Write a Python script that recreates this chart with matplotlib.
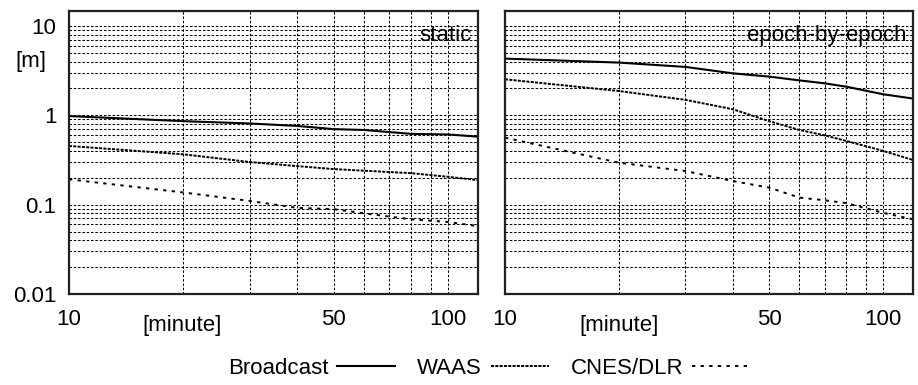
import matplotlib
matplotlib.use("Agg")
import matplotlib.pyplot as plt
from matplotlib.lines import Line2D
from matplotlib.ticker import FixedLocator, NullFormatter, LogLocator

plt.rcParams['font.family'] = ['Liberation Sans', 'DejaVu Sans']
plt.rcParams['lines.scale_dashes'] = False

# Data (minutes vs. error in metres)
x_static = [10, 20, 30, 40, 50, 60, 80, 100, 120]
static_broadcast = [0.98, 0.86, 0.81, 0.76, 0.70, 0.685, 0.62, 0.61, 0.577]
static_waas = [0.454, 0.366, 0.30, 0.27, 0.25, 0.24, 0.225, 0.205, 0.188]
static_cnes = [0.192, 0.137, 0.11, 0.092, 0.089, 0.080, 0.0685, 0.064, 0.0575]

x_epoch = [10, 20, 30, 40, 50, 60, 70, 80, 100, 120]
epoch_broadcast = [4.31, 3.89, 3.48, 2.95, 2.71, 2.46, 2.28, 2.09, 1.72, 1.54]
epoch_waas = [2.53, 1.87, 1.49, 1.17, 0.86, 0.686, 0.597, 0.516, 0.40, 0.316]
epoch_cnes = [0.562, 0.295, 0.238, 0.184, 0.155, 0.12, 0.112, 0.104, 0.081, 0.0686]

series_names = ['Broadcast', 'WAAS', 'CNES/DLR']
panel_titles = ['static', 'epoch-by-epoch']
x_ticks = [10, 50, 100]
y_ticks = [0.01, 0.1, 1, 10]
y_ticklabels = ['0.01', '0.1', '1', '10']

styles = [
    dict(color='black', lw=1.5, linestyle='-'),
    dict(color='black', lw=1.4, dashes=(2.2, 0.9)),
    dict(color='black', lw=1.4, dashes=(2.4, 3.8)),
]

FS = 16
fig = plt.figure(figsize=(9.18, 3.85), dpi=100)
ax1 = fig.add_axes([69/918, 1-294/385, 409/918, 283/385])
ax2 = fig.add_axes([505/918, 1-294/385, 408/918, 283/385])

panels = [
    (ax1, x_static, [static_broadcast, static_waas, static_cnes]),
    (ax2, x_epoch, [epoch_broadcast, epoch_waas, epoch_cnes]),
]

for i, (ax, xs, ys) in enumerate(panels):
    ax.set_xscale('log')
    ax.set_yscale('log')
    ax.set_xlim(10, 120)
    ax.set_ylim(0.01, 14.7)
    for y, st in zip(ys, styles):
        ax.plot(xs, y, **st)
    ax.xaxis.set_major_locator(FixedLocator(x_ticks))
    ax.xaxis.set_minor_locator(FixedLocator([20, 30, 40, 60, 70, 80, 90]))
    ax.set_xticklabels([str(t) for t in x_ticks])
    ax.xaxis.set_minor_formatter(NullFormatter())
    ax.yaxis.set_major_locator(FixedLocator(y_ticks))
    ax.yaxis.set_minor_locator(LogLocator(base=10, subs=range(2, 10), numticks=20))
    ax.yaxis.set_minor_formatter(NullFormatter())
    if i == 0:
        ax.set_yticklabels(y_ticklabels)
    else:
        ax.set_yticklabels([])
    ax.tick_params(which='both', length=0, labelsize=FS, colors='black')
    ax.tick_params(axis='x', pad=10.5)
    ax.tick_params(axis='y', pad=9)
    ax.grid(True, which='both', axis='both', color='black', lw=0.75, dashes=(1.8, 1.3))
    ax.set_axisbelow(True)
    for sp in ax.spines.values():
        sp.set_linewidth(1.6)
        sp.set_color('#222222')
    t = ax.text(0.985, 0.915, panel_titles[i], transform=ax.transAxes, ha='right', va='center', fontsize=FS)
    t.set_bbox(dict(facecolor='none', edgecolor='none', pad=0))

fig.text(31/918, 1-61/385, '[m]', ha='center', va='center', fontsize=FS)
fig.text(182/918, 1-325/385, '[minute]', ha='center', va='center', fontsize=FS)
fig.text(619/918, 1-325/385, '[minute]', ha='center', va='center', fontsize=FS)

handles = [Line2D([], [], **st) for st in styles]
fig.legend(handles, series_names, loc='center', bbox_to_anchor=(489/918, 1-368/385),
           ncol=3, frameon=False, markerfirst=False, fontsize=FS,
           handlelength=2.6, handletextpad=0.4, columnspacing=1.0)

fig.savefig('out.png', dpi=100)
